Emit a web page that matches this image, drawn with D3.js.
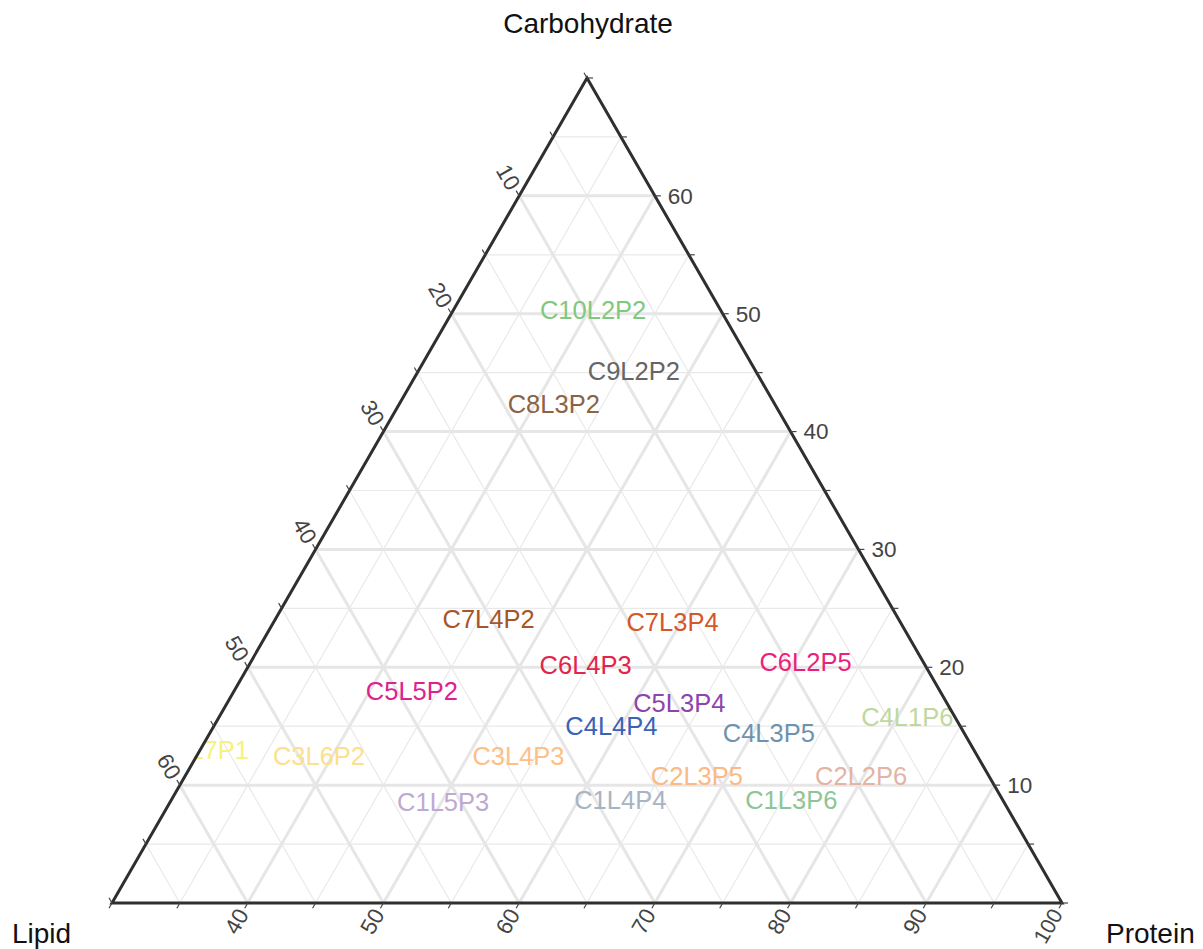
<!DOCTYPE html>
<html>
<head>
<meta charset="utf-8">
<script src="https://cdn.jsdelivr.net/npm/d3@7"></script>
<style>
  html, body { margin: 0; padding: 0; background: #fff; }
  svg { display: block; font-family: "Liberation Sans", Arial, sans-serif; }
</style>
</head>
<body>
<svg id="chart" width="1203" height="949"></svg>
<script>
// ---- data ----
const labels = ["C10L2P2","C9L2P2","C8L3P2","C7L4P2","C7L3P4","C6L4P3","C6L2P5","C5L5P2","C5L3P4","C4L4P4",
                "C4L1P6","C4L3P5","C3L7P1","C3L6P2","C3L4P3","C2L3P5","C2L2P6","C1L5P3","C1L4P4","C1L3P6"];
const carbohydrate = [50.3, 45.1, 42.3, 24.1, 23.8, 20.2, 20.4, 18.0, 17.0, 15.0,
                      15.8, 14.4, 13.0, 12.5, 12.5, 10.8, 10.8, 8.6, 8.7, 8.7];
const lipid        = [9.4, 9.0, 16.3, 30.2, 16.8, 25.0, 8.7, 38.9, 19.7, 25.7,
                      3.5, 14.4, 56.8, 48.5, 33.8, 21.5, 9.4, 41.3, 28.2, 15.6];
const protein      = [40.3, 45.9, 41.4, 45.7, 59.4, 54.8, 70.9, 43.1, 63.3, 59.3,
                      80.7, 71.2, 30.2, 39.0, 53.7, 67.7, 79.8, 50.1, 63.1, 75.7];
const colors = ["#7fc97f","#666666","#8b6446","#a65628","#d3572a","#e3244a","#ec1f7c","#de2190","#8e44ad","#3a62b5",
                "#bfd89f","#6e93ae","#f7f27c","#fde089","#fdc086","#fbb984","#e3b3a5","#c0a9d0","#a7b4c4","#8fc594"];

const carbRange = [0, 70];
const lipidRange = [0, 70];
const proteinRange = [30, 100];
const carbTicks = [10, 20, 30, 40, 50, 60];
const lipidTicks = [10, 20, 30, 40, 50, 60];
const proteinTicks = [40, 50, 60, 70, 80, 90, 100];
const axisTitles = { carbohydrate: "Carbohydrate", lipid: "Lipid", protein: "Protein" };

// ---- geometry ----
const svg = d3.select("#chart");
const TOP = [587, 78], LEFT = [112, 903], RIGHT = [1062, 903];
const fa = d3.scaleLinear().domain(carbRange).range([0, 1]);
const fb = d3.scaleLinear().domain(lipidRange).range([0, 1]);
const fc = d3.scaleLinear().domain(proteinRange).range([0, 1]);

function pt(c, l, p) {
  const a = fa(c), b = fb(l), k = fc(p);
  const s = a + b + k;
  return [(a * TOP[0] + b * LEFT[0] + k * RIGHT[0]) / s,
          (a * TOP[1] + b * LEFT[1] + k * RIGHT[1]) / s];
}
const SUM = 100;
const pMin = proteinRange[0];

// grid lines
function carbLine(c) { return [pt(c, SUM - c - pMin, pMin), pt(c, 0, SUM - c)]; }
function lipidLine(l) { return [pt(SUM - l - pMin, l, pMin), pt(0, l, SUM - l)]; }
function proteinLine(p) { return [pt(0, SUM - p, p), pt(SUM - p, 0, p)]; }

const gridG = svg.append("g");
const steps = d3.range(5, 70, 5);
function drawGrid(isMajor) {
  const sel = steps.filter(v => (v % 10 === 0) === isMajor);
  const lines = [];
  sel.forEach(v => {
    lines.push(carbLine(v));
    lines.push(lipidLine(v));
    lines.push(proteinLine(v + 30));
  });
  gridG.selectAll(null).data(lines).enter().append("line")
    .attr("x1", d => d[0][0]).attr("y1", d => d[0][1])
    .attr("x2", d => d[1][0]).attr("y2", d => d[1][1])
    .attr("stroke", isMajor ? "#e6e6e6" : "#e9e9e9")
    .attr("stroke-width", isMajor ? 3 : 1.2);
}
drawGrid(false);
drawGrid(true);

// clip path for text
const tri = [TOP, LEFT, RIGHT];
svg.append("clipPath").attr("id", "triclip").append("path")
  .attr("d", "M" + tri.map(p => p.join(",")).join("L") + "Z");

// data labels
svg.append("g").attr("clip-path", "url(#triclip)")
  .selectAll("text").data(labels).enter().append("text")
  .attr("x", (d, i) => pt(carbohydrate[i], lipid[i], protein[i])[0])
  .attr("y", (d, i) => pt(carbohydrate[i], lipid[i], protein[i])[1])
  .attr("dy", "0.35em")
  .attr("text-anchor", "middle")
  .attr("font-size", 25.5)
  .attr("fill", (d, i) => colors[i])
  .text(d => d);

// border
svg.append("path")
  .attr("d", "M" + tri.map(p => p.join(",")).join("L") + "Z")
  .attr("fill", "none").attr("stroke", "#2f2f2f").attr("stroke-width", 3)
  .attr("stroke-linejoin", "miter");

// ticks
const TL = 6, GAP = 9;
const tickG = svg.append("g");
const allSteps = d3.range(0, 75, 5);
allSteps.forEach(v => {
  const P = pt(v, 0, SUM - v);
  tickG.append("line").attr("x1", P[0]).attr("y1", P[1]).attr("x2", P[0] + TL).attr("y2", P[1])
    .attr("stroke", "#444").attr("stroke-width", 1.2);
});
const uL = [-0.5, -Math.sqrt(3) / 2];
allSteps.forEach(v => {
  const P = pt(SUM - v - pMin, v, pMin);
  tickG.append("line").attr("x1", P[0]).attr("y1", P[1]).attr("x2", P[0] + TL * uL[0]).attr("y2", P[1] + TL * uL[1])
    .attr("stroke", "#444").attr("stroke-width", 1.2);
});
const uB = [-0.5, Math.sqrt(3) / 2];
allSteps.forEach(v => {
  const p = v + 30;
  const P = pt(0, SUM - p, p);
  tickG.append("line").attr("x1", P[0]).attr("y1", P[1]).attr("x2", P[0] + TL * uB[0]).attr("y2", P[1] + TL * uB[1])
    .attr("stroke", "#444").attr("stroke-width", 1.2);
});

// tick labels
const lblG = svg.append("g").attr("font-size", 22.5).attr("fill", "#444");
carbTicks.forEach(v => {
  const P = pt(v, 0, SUM - v);
  lblG.append("text").attr("x", P[0] + GAP + 4).attr("y", P[1]).attr("dy", "0.35em")
    .attr("text-anchor", "start").text(v);
});
lipidTicks.forEach(v => {
  const P = pt(SUM - v - pMin, v, pMin);
  const x = P[0] + GAP * uL[0], y = P[1] + GAP * uL[1];
  lblG.append("text").attr("transform", `translate(${x},${y}) rotate(60)`).attr("dy", "0.35em")
    .attr("text-anchor", "end").text(v);
});
proteinTicks.forEach(v => {
  const P = pt(0, SUM - v, v);
  const x = P[0] + GAP * uB[0], y = P[1] + GAP * uB[1];
  lblG.append("text").attr("transform", `translate(${x},${y}) rotate(-60)`).attr("dy", "0.32em")
    .attr("text-anchor", "end").attr("font-size", v === 100 ? 21.5 : 22.5).text(v);
});

// axis titles
const tG = svg.append("g").attr("font-size", 28).attr("fill", "#111");
tG.append("text").attr("x", TOP[0] + 1).attr("y", 33).attr("text-anchor", "middle").text(axisTitles.carbohydrate);
tG.append("text").attr("x", 12).attr("y", 943).attr("text-anchor", "start").text(axisTitles.lipid);
tG.append("text").attr("x", 1106).attr("y", 943).attr("text-anchor", "start").text(axisTitles.protein);
</script>
</body>
</html>
